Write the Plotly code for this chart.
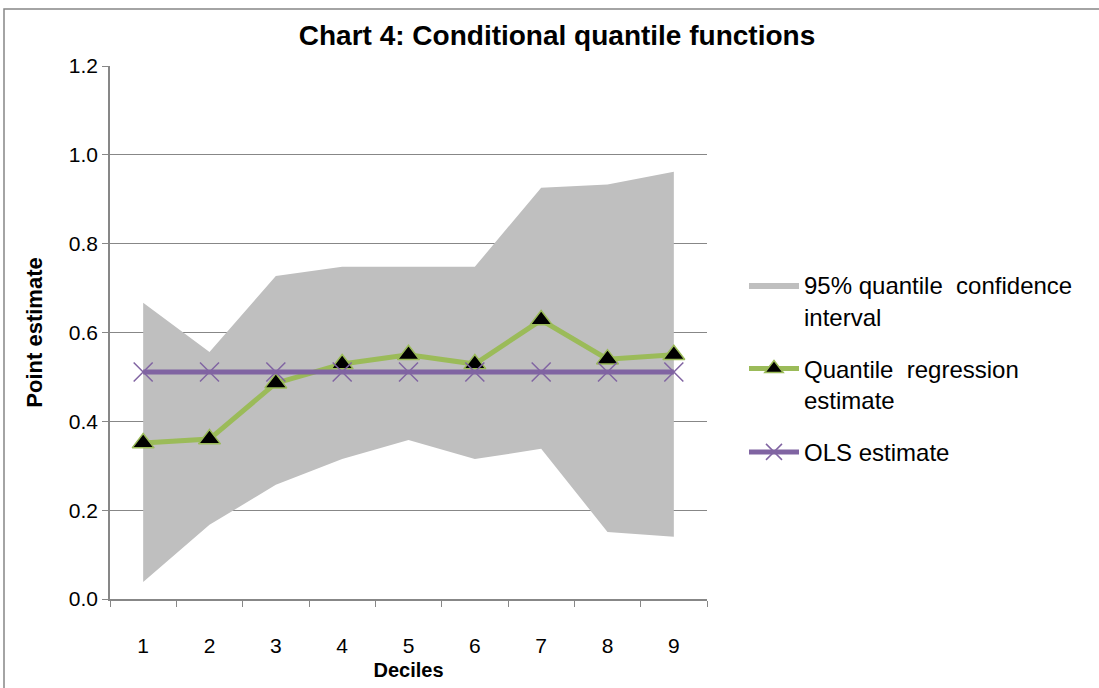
import plotly.graph_objects as go

deciles = ["1", "2", "3", "4", "5", "6", "7", "8", "9"]
ci_upper = [0.667, 0.556, 0.727, 0.748, 0.748, 0.748, 0.926, 0.933, 0.962]
ci_lower = [0.038, 0.167, 0.257, 0.315, 0.358, 0.315, 0.338, 0.151, 0.140]
quantile_est = [0.351, 0.360, 0.486, 0.529, 0.550, 0.529, 0.628, 0.540, 0.550]
ols_est = [0.511] * 9

FONT = "Liberation Sans, Arial, sans-serif"
GRID = "#878787"

fig = go.Figure()
fig.add_trace(go.Scatter(x=deciles, y=ci_lower, mode="lines", line=dict(width=0, color="#BFBFBF"),
                         showlegend=False, hoverinfo="skip", legendgroup="a"))
fig.add_trace(go.Scatter(x=deciles, y=ci_upper, mode="lines", line=dict(width=0, color="#BFBFBF"),
                         fill="tonexty", fillcolor="#BFBFBF", legendgroup="a",
                         name="95% quantile  confidence<br>interval"))
fig.add_trace(go.Scatter(x=deciles, y=quantile_est, mode="lines+markers",
                         line=dict(color="#9BBB59", width=5), legendgroup="b",
                         marker=dict(symbol="triangle-up", size=19, color="black",
                                     line=dict(color="#9BBB59", width=1.5)),
                         name="Quantile  regression<br>estimate"))
fig.add_trace(go.Scatter(x=deciles, y=ols_est, mode="lines+markers",
                         line=dict(color="#8064A2", width=5), legendgroup="c",
                         marker=dict(symbol="x-thin", size=19, color="#8064A2",
                                     line=dict(color="#8064A2", width=1.5)),
                         name="OLS estimate"))

L, R, T, B = 110, 707, 66, 599
W, H = 1099, 688
pw, ph = R - L, B - T

fig.update_layout(
    width=W, height=H,
    margin=dict(l=L, r=W - R, t=T, b=H - B),
    paper_bgcolor="white", plot_bgcolor="white",
    font=dict(family=FONT, size=21, color="black"),
    title=dict(text="<b>Chart 4: Conditional quantile functions</b>", x=557 / W, xanchor="center",
               y=1 - 35 / H, yanchor="middle", font=dict(size=28, family=FONT)),
    xaxis=dict(type="category", tickson="boundaries", ticks="outside", ticklen=6, tickcolor=GRID,
               showgrid=False, showline=True, linecolor=GRID, linewidth=1.5,
               ticklabelstandoff=27, tickfont=dict(size=21), automargin=False,
               title=dict(text="<b>Deciles</b>", standoff=7, font=dict(size=20)),
               range=[-0.5, 8.5]),
    yaxis=dict(range=[0, 1.2], dtick=0.2, tickformat=".1f", ticks="outside", ticklen=6,
               tickcolor=GRID, showgrid=True, gridcolor=GRID, gridwidth=1.2,
               showline=True, linecolor=GRID, linewidth=1.5, zeroline=False,
               tickfont=dict(size=21), automargin=False,
               title=dict(text="<b>Point estimate</b>", standoff=20, font=dict(size=22))),
    legend=dict(x=(744 - L) / pw, xanchor="left", y=(B - 263) / ph, yanchor="top",
                valign="top", font=dict(size=24), traceorder="grouped", tracegroupgap=18,
                itemwidth=50, bgcolor="rgba(0,0,0,0)"),
    showlegend=True,
)

fig.add_shape(type="rect", xref="paper", yref="paper",
              x0=(4 - L) / pw, x1=(W + 10 - L) / pw,
              y0=(B - (H + 10)) / ph, y1=(B - 9) / ph,
              line=dict(color=GRID, width=1.5), fillcolor="rgba(0,0,0,0)", layer="below")

fig.write_html("out.html", config={"displayModeBar": False},
               post_script="document.body.style.margin='0';document.body.style.overflow='hidden';")
